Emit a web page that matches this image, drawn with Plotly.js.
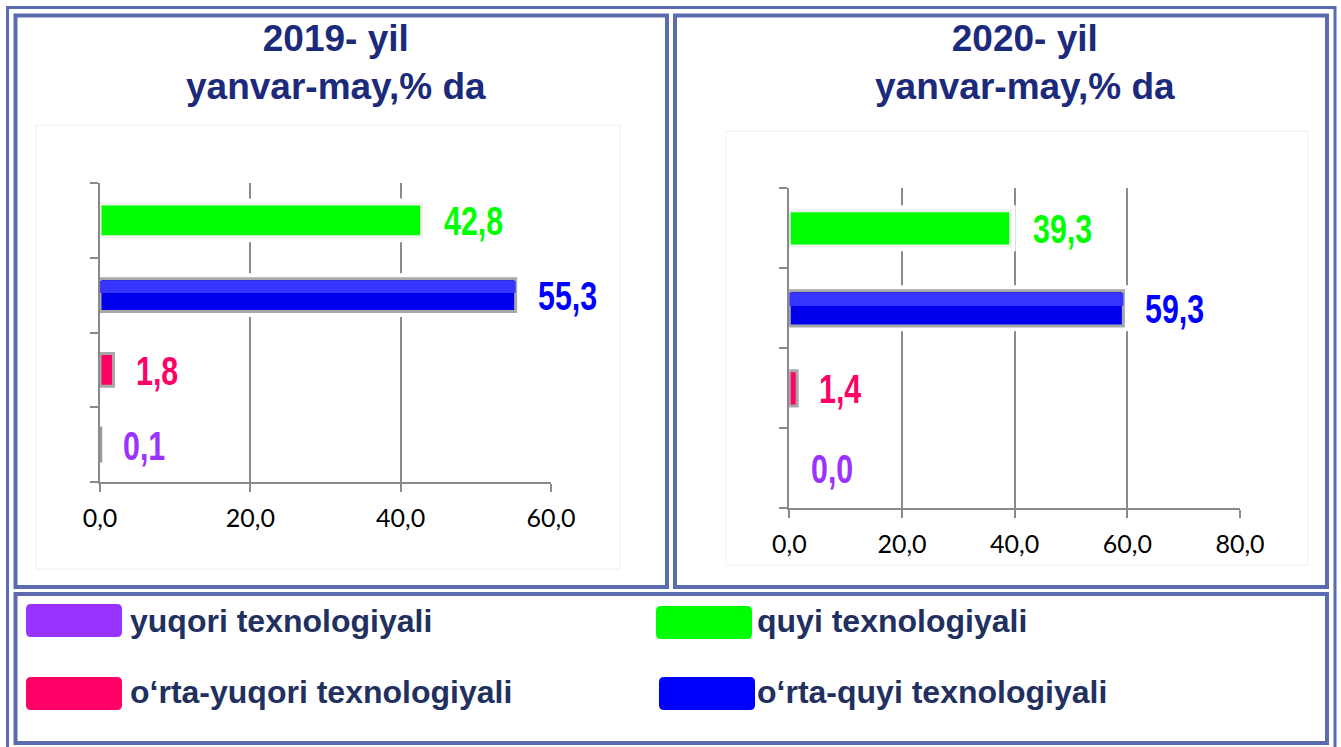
<!DOCTYPE html>
<html><head><meta charset="utf-8">
<script src="https://cdn.plot.ly/plotly-3.0.1.min.js"></script>
<style>html,body{margin:0;padding:0;background:#fff}#chart{width:1341px;height:747px}</style>
</head><body><div id="chart"></div>
<script>
// ---- data ----
const categories = ['yuqori texnologiyali', 'o‘rta-yuqori texnologiyali', 'o‘rta-quyi texnologiyali', 'quyi texnologiyali'];
const values2019 = [0.1, 1.8, 55.3, 42.8];
const values2020 = [0.0, 1.4, 59.3, 39.3];
const xTicks2019 = [0, 20, 40, 60];
const xTicks2020 = [0, 20, 40, 60, 80];
const title2019 = ['2019- yil', 'yanvar-may,% da'];
const title2020 = ['2020- yil', 'yanvar-may,% da'];

// ---- styles ----
const barColors = ['#9933ff', '#ff0066', '#0000ee', '#00ff00'];
const hiColors = ['rgba(0,0,0,0)', 'rgba(0,0,0,0)', '#3535ff', 'rgba(0,0,0,0)'];
const swatchColors = ['#9933ff', '#ff0066', '#0000ff', '#00ff00'];
const outlineColors = ['#9c9c9c', '#a8a8a8', '#a8a8a8', '#f0f0f0'];
const labelColors = ['#9933ff', '#ff0066', '#0000ff', '#00ff00'];
const borderColor = '#5b6bb0';
const gridColor = '#8a8a8a';
const W = 1341, H = 747;
const fx = x => x / W;
const fy = y => 1 - y / H;
const fmt = v => v.toFixed(1).replace('.', ',');

function rect(x0, y0, x1, y1, color, width) {
  return {type: 'rect', xref: 'paper', yref: 'paper', x0: fx(x0), x1: fx(x1), y0: fy(y1), y1: fy(y0),
          line: {color: color, width: width}, fillcolor: 'rgba(0,0,0,0)', layer: 'above'};
}
function roundRect(x0, y0, x1, y1, r, color) {
  const P = (x, y) => fx(x) + ',' + fy(y);
  const d = 'M' + P(x0 + r, y0) + ' L' + P(x1 - r, y0) + ' Q' + P(x1, y0) + ' ' + P(x1, y0 + r) +
    ' L' + P(x1, y1 - r) + ' Q' + P(x1, y1) + ' ' + P(x1 - r, y1) +
    ' L' + P(x0 + r, y1) + ' Q' + P(x0, y1) + ' ' + P(x0, y1 - r) +
    ' L' + P(x0, y0 + r) + ' Q' + P(x0, y0) + ' ' + P(x0 + r, y0) + ' Z';
  return {type: 'path', xref: 'paper', yref: 'paper', path: d, fillcolor: color, line: {width: 0}};
}

function barTraces(vals, xa, ya) {
  const lw = vals.map(v => (v > 0 ? 3 : 0));
  return [
    {type: 'bar', orientation: 'h', x: vals, y: categories, xaxis: xa, yaxis: ya, width: 0.45,
     marker: {color: '#ffffff', line: {color: '#ffffff', width: 10}}, hoverinfo: 'skip', showlegend: false},
    {type: 'bar', orientation: 'h', x: vals, y: categories, xaxis: xa, yaxis: ya, width: 0.44,
     marker: {color: barColors, line: {color: outlineColors, width: lw}}, showlegend: false},
    {type: 'bar', orientation: 'h', x: vals, y: categories, xaxis: xa, yaxis: ya, width: 0.16, offset: 0.03,
     marker: {color: hiColors, line: {width: 0}}, hoverinfo: 'skip', showlegend: false}
  ];
}

const data = [].concat(barTraces(values2019, 'x', 'y'), barTraces(values2020, 'x2', 'y2'));

function xAxis(domain, range, ticks, anchor) {
  return {domain: domain, range: range, anchor: anchor, tickmode: 'array', tickvals: ticks,
          tickformat: '.1f', showgrid: true, gridcolor: gridColor, gridwidth: 2,
          showline: true, linecolor: gridColor, linewidth: 2, zeroline: false,
          ticks: 'outside', ticklen: 8, tickwidth: 2, tickcolor: gridColor,
          ticklabelstandoff: 5,
          tickfont: {family: 'Lato, Carlito, sans-serif', size: 25, color: '#000'}, fixedrange: true};
}
function yAxis(domain, anchor) {
  return {domain: domain, anchor: anchor, type: 'category', categoryorder: 'array', categoryarray: categories,
          range: [-0.5, 3.5], tickson: 'boundaries', ticks: 'outside', ticklen: 8, tickwidth: 2,
          tickcolor: gridColor, showticklabels: false, showline: true, linecolor: gridColor, linewidth: 2,
          showgrid: false, zeroline: false, fixedrange: true};
}

const annotations = [];
const labelFont = c => ({family: 'Liberation Sans, Arial, sans-serif', size: 40, weight: 700, color: c});
values2019.forEach((v, i) => annotations.push({xref: 'x', yref: 'y', x: v, y: categories[i], text: fmt(v),
  xanchor: 'left', yanchor: 'middle', xshift: 20, yshift: -1, showarrow: false, font: labelFont(labelColors[i])}));
values2020.forEach((v, i) => annotations.push({xref: 'x2', yref: 'y2', x: v, y: categories[i], text: fmt(v),
  xanchor: 'left', yanchor: 'middle', xshift: 20, yshift: -1, showarrow: false, font: labelFont(labelColors[i])}));
const nLabels = annotations.length;

const titleFont = {family: 'Liberation Sans, Arial, sans-serif', size: 37, weight: 700, color: '#1b2a7a'};
annotations.push({xref: 'paper', yref: 'paper', x: fx(336), y: fy(63), text: title2019.join('<br>'),
  xanchor: 'center', yanchor: 'middle', showarrow: false, font: titleFont});
annotations.push({xref: 'paper', yref: 'paper', x: fx(1025), y: fy(63), text: title2020.join('<br>'),
  xanchor: 'center', yanchor: 'middle', showarrow: false, font: titleFont});

// legend (2 x 2 grid)
const legendSlots = [
  {cat: 0, sx: 26, sy: 604, tx: 128, ty: 621},
  {cat: 3, sx: 656, sy: 606, tx: 755, ty: 621},
  {cat: 1, sx: 26, sy: 677, tx: 128, ty: 692},
  {cat: 2, sx: 659, sy: 677, tx: 755, ty: 692}
];
const legendShapes = [];
legendSlots.forEach(s => {
  legendShapes.push(roundRect(s.sx, s.sy, s.sx + 96, s.sy + 33, 5, swatchColors[s.cat]));
  annotations.push({xref: 'paper', yref: 'paper', x: fx(s.tx), y: fy(s.ty), text: categories[s.cat],
    xanchor: 'left', yanchor: 'middle', showarrow: false,
    font: {family: 'Liberation Sans, Arial, sans-serif', size: 32, weight: 700, color: '#22305f'}});
});

const shapes = [
  rect(36, 125, 620, 569, '#eeeeee', 1),
  rect(726, 131, 1308, 565, '#eeeeee', 1),
  rect(7.5, 7.5, 1335, 752, borderColor, 3),
  rect(15.5, 15.5, 667, 587, borderColor, 4),
  rect(675, 15.5, 1327, 587, borderColor, 4),
  rect(15.5, 594, 1327, 743, borderColor, 4)
].concat(legendShapes);

const layout = {
  width: W, height: H, margin: {l: 0, r: 0, t: 0, b: 0},
  paper_bgcolor: '#ffffff', plot_bgcolor: 'rgba(0,0,0,0)',
  separators: ', ', barmode: 'overlay', showlegend: false,
  xaxis: xAxis([fx(100), fx(551)], [0, 60], xTicks2019, 'y'),
  yaxis: yAxis([fy(482), fy(183)], 'x'),
  xaxis2: xAxis([fx(789.3), fx(1240)], [0, 80], xTicks2020, 'y2'),
  yaxis2: yAxis([fy(508.3), fy(188.3)], 'x2'),
  annotations: annotations, shapes: shapes
};

Plotly.newPlot('chart', data, layout, {displayModeBar: false, staticPlot: true}).then(gd => {
  // condensed look for the value labels (narrow bold face in the original)
  const groups = gd.querySelectorAll('.infolayer g.annotation');
  for (let i = 0; i < nLabels && i < groups.length; i++) {
    const t = groups[i].querySelector('text.annotation-text');
    if (!t) continue;
    const bb = t.getBBox();
    t.setAttribute('transform', 'translate(' + bb.x + ',0) scale(0.76,1) translate(' + (-bb.x) + ',0)');
  }
});
</script></body></html>
